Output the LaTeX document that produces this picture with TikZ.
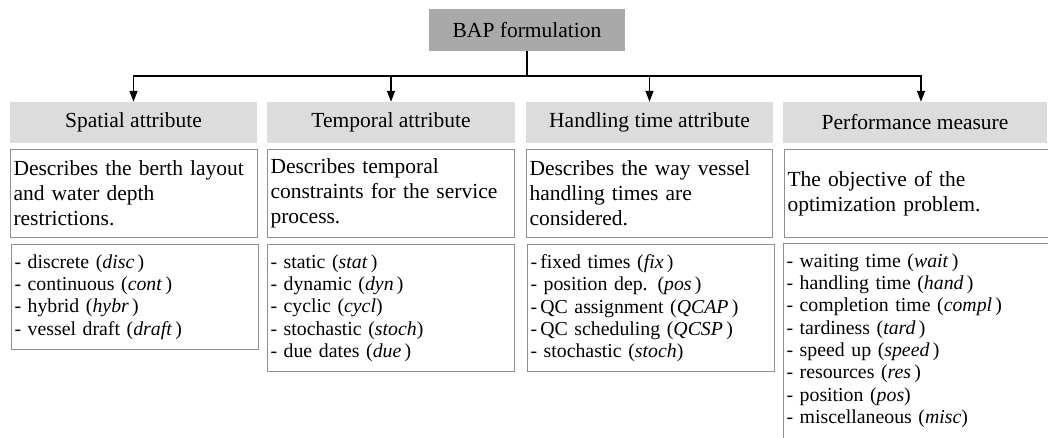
\documentclass[tikz,border=0pt]{standalone}
\usepackage{fontspec}
\setmainfont{Liberation Serif}
\usetikzlibrary{arrows.meta}
\definecolor{rootgray}{HTML}{A9A9A9}
\definecolor{headgray}{HTML}{DCDCDC}
\definecolor{boxline}{HTML}{8E8E8E}
\begin{document}
\begin{tikzpicture}[x=1pt,y=-1pt,font=\fontsize{21.5}{25}\selectfont,
  link/.style={line width=1.4pt, ->, >={Triangle[length=11pt,width=8pt]}},
  head/.style={fill=headgray, minimum height=41pt, inner sep=0pt},
  descbox/.style={draw=boxline, line width=1pt, anchor=north west, minimum height=88pt, inner xsep=3pt, align=left},
  listbox/.style={draw=boxline, line width=1pt, anchor=north west, inner xsep=3pt, inner ysep=10pt, align=left, font=\fontsize{19.8}{22.3}\selectfont}]
\useasboundingbox (0,0) rectangle (1048,438);
\node[fill=rootgray, minimum width=196pt, minimum height=42pt](root) at (527,30) {BAP formulation};
% headers
\node[head, minimum width=247pt](spat) at (133.5,122.5) {Spatial attribute};
\node[head, minimum width=248pt](temp) at (391,122.5) {Temporal attribute};
\node[head, minimum width=247pt](hand) at (649.5,122.5) {Handling time attribute};
\node[head, minimum width=264pt](perf) at (915,122.5) {Performance measure};
% descriptions
\node[descbox, text width=241pt](spatdesc) at (10,149) {Describes the berth layout\\and water depth\\restrictions.};
\node[descbox, text width=241pt](tempdesc) at (267,149) {Describes temporal\\constraints for the service\\process.};
\node[descbox, text width=240pt](handdesc) at (526,149) {Describes the way vessel\\handling times are\\considered.};
\node[descbox, text width=270pt](perfdesc) at (784,149) {The objective of the\\optimization problem.};
% lists
\node[listbox, text width=241pt](spatlist) at (11,244) {- discrete (\textit{disc}\,)\\- continuous (\textit{cont}\,)\\- hybrid (\textit{hybr}\,)\\- vessel draft (\textit{draft}\,)};
\node[listbox, text width=241pt](templist) at (267,244) {- static (\textit{stat}\,)\\- dynamic (\textit{dyn}\,)\\- cyclic (\textit{cycl})\\- stochastic (\textit{stoch})\\- due dates (\textit{due}\,)};
\node[listbox, text width=241pt](handlist) at (527,244) {-\,fixed times (\textit{fix}\,)\\- position dep. (\textit{pos}\,)\\-\,QC assignment (\textit{QCAP}\,)\\-\,QC scheduling (\textit{QCSP}\,)\\- stochastic (\textit{stoch})};
\node[listbox, text width=270pt](perflist) at (783,243) {- waiting time (\textit{wait}\,)\\- handling time (\textit{hand}\,)\\- completion time (\textit{compl}\,)\\- tardiness (\textit{tard}\,)\\- speed up (\textit{speed}\,)\\- resources (\textit{res}\,)\\- position (\textit{pos})\\- miscellaneous (\textit{misc})\\ \mbox{}};
% connectors
\coordinate (bus) at (527,76);
\draw[link] (root.south) -- (bus) -| (spat.north);
\draw[link] (root.south) -- (bus) -| (temp.north);
\draw[link] (root.south) -- (bus) -| (hand.north);
\draw[link] (root.south) -- (bus) -| ([xshift=6pt]perf.north);
\end{tikzpicture}
\end{document}
